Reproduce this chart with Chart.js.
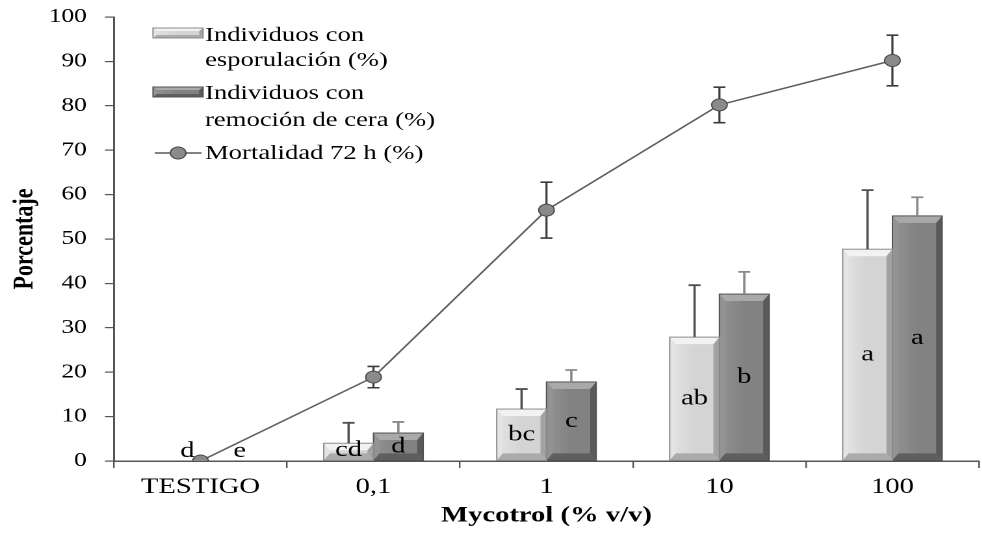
<!DOCTYPE html>
<html>
<head>
<meta charset="utf-8">
<script src="https://cdn.jsdelivr.net/npm/chart.js@4.4.1/dist/chart.umd.min.js"></script>
<style>
  html, body { margin: 0; padding: 0; background: #fff; overflow: hidden; }
  /* the figure is drawn narrow and stretched sideways, like the exported original */
  #wrap { width: 760px; height: 538px; transform: scaleX(1.3); transform-origin: 0 0; }
</style>
</head>
<body>
<div id="wrap"><canvas id="chart" width="760" height="538"></canvas></div>
<script>
const categories = ['TESTIGO', '0,1', '1', '10', '100'];

const sporulation = [0, 4.0, 11.7, 27.9, 47.7];
const sporulationErr = [0, 4.6, 4.5, 11.7, 13.3];
const sporulationLetters = ['d', 'cd', 'bc', 'ab', 'a'];

const waxRemoval = [0, 6.3, 17.8, 37.6, 55.2];
const waxRemovalErr = [0, 2.5, 2.7, 5.0, 4.2];
const waxRemovalLetters = ['e', 'd', 'c', 'b', 'a'];

const mortality = [0, 18.9, 56.5, 80.2, 90.2];
const mortalityErr = [0, 2.4, 6.3, 4.0, 5.7];

const yTicks = [0, 10, 20, 30, 40, 50, 60, 70, 80, 90, 100];

const SERIF = "'Liberation Serif', 'DejaVu Serif', serif";

const shades = {
  light: { face: '#d4d4d4', top: '#f2f2f2', left: '#e4e4e4', right: '#a2a2a2', bottom: '#ababab', edge: '#8c8c8c' },
  dark:  { face: '#828282', top: '#a9a9a9', left: '#939393', right: '#5a5a5a', bottom: '#5f5f5f', edge: '#525252' }
};

function poly(ctx, pts, color) {
  ctx.beginPath();
  ctx.moveTo(pts[0][0], pts[0][1]);
  for (let i = 1; i < pts.length; i++) ctx.lineTo(pts[i][0], pts[i][1]);
  ctx.closePath();
  ctx.fillStyle = color;
  ctx.fill();
}

// raised "bevel" look of the Excel bars
function drawBevel(ctx, x0, x1, y0, y1, s, bh, bv) {
  if (y1 - y0 < 0.5) return;
  bh = Math.min(bh, (x1 - x0) / 2);
  bv = Math.min(bv, (y1 - y0) / 2);
  ctx.save();
  const g = ctx.createLinearGradient(x0, 0, x1, 0);
  g.addColorStop(0, s.left);
  g.addColorStop(0.5, s.face);
  g.addColorStop(1, s.face);
  poly(ctx, [[x0, y0], [x1, y0], [x1, y1], [x0, y1]], g);
  poly(ctx, [[x0, y0], [x1, y0], [x1 - bh, y0 + bv], [x0 + bh, y0 + bv]], s.top);
  poly(ctx, [[x0, y0], [x0 + bh, y0 + bv], [x0 + bh, y1 - bv], [x0, y1]], s.left);
  poly(ctx, [[x1, y0], [x1, y1], [x1 - bh, y1 - bv], [x1 - bh, y0 + bv]], s.right);
  poly(ctx, [[x0, y1], [x0 + bh, y1 - bv], [x1 - bh, y1 - bv], [x1, y1]], s.bottom);
  ctx.strokeStyle = s.edge;
  ctx.lineWidth = 1;
  ctx.strokeRect(x0, y0, x1 - x0, y1 - y0);
  ctx.restore();
}

function drawCap(ctx, x, y1, y2, half) {
  ctx.beginPath();
  ctx.moveTo(x, y1);
  ctx.lineTo(x, y2);
  ctx.moveTo(x - half, y2);
  ctx.lineTo(x + half, y2);
  ctx.stroke();
}

const barLook = {
  id: 'barLook',
  beforeDatasetDraw(chart, args) {
    const ds = chart.data.datasets[args.index];
    if (ds.type !== 'line') return;
    // error bars behind the markers
    const { ctx } = chart;
    const y = chart.scales.y;
    ctx.save();
    ctx.strokeStyle = '#3c3c3c';
    ctx.lineWidth = 1.6;
    args.meta.data.forEach((pt, i) => {
      const e = ds.errors[i];
      if (!e) return;
      const yt = y.getPixelForValue(ds.data[i] + e);
      const yb = y.getPixelForValue(ds.data[i] - e);
      drawCap(ctx, pt.x, pt.y, yt, 4.6);
      drawCap(ctx, pt.x, pt.y, yb, 4.6);
    });
    ctx.restore();
  },
  afterDatasetDraw(chart, args) {
    const ds = chart.data.datasets[args.index];
    if (ds.type === 'line') return;
    const { ctx } = chart;
    const y = chart.scales.y;
    args.meta.data.forEach((bar, i) => {
      const p = bar.getProps(['x', 'y', 'base', 'width'], true);
      drawBevel(ctx, p.x - p.width / 2, p.x + p.width / 2, p.y, p.base, shades[ds.look], 4.6, 7);
      const e = ds.errors[i];
      if (e) {
        ctx.save();
        ctx.strokeStyle = ds.look === 'light' ? '#505050' : '#8a8a8a';
        ctx.lineWidth = 1.8;
        drawCap(ctx, p.x, p.y, y.getPixelForValue(ds.data[i] + e), 4.6);
        ctx.restore();
      }
    });
  },
  afterDatasetsDraw(chart) {
    const { ctx } = chart;
    ctx.save();
    ctx.fillStyle = '#000';
    ctx.font = '22px ' + SERIF;
    ctx.textAlign = 'center';
    ctx.textBaseline = 'middle';
    chart.data.datasets.forEach((ds, di) => {
      if (!ds.letters) return;
      chart.getDatasetMeta(di).data.forEach((bar, i) => {
        const p = bar.getProps(['x', 'y', 'base'], true);
        const flat = p.base - p.y < 1;
        const mid = Math.min((p.y + p.base) / 2, p.base - 10);
        // letters of empty bars sit a little inward, clear of the marker
        const dx = flat ? (ds.look === 'light' ? 9 : 11) : 0;
        ctx.fillText(ds.letters[i], p.x + dx, mid);
      });
    });
    ctx.restore();
  }
};

const legendBox = {
  id: 'legendBox',
  afterDraw(chart) {
    const { ctx } = chart;
    const sx = 117.7, sw = 38.5, tx = 157.7;
    ctx.save();
    drawBevel(ctx, sx, sx + sw, 28, 38, shades.light, 3, 3);
    drawBevel(ctx, sx, sx + sw, 87, 97, shades.dark, 3, 3);
    // line + marker sample
    ctx.strokeStyle = '#5a5a5a';
    ctx.lineWidth = 1.5;
    ctx.beginPath();
    ctx.moveTo(119, 153);
    ctx.lineTo(155, 153);
    ctx.stroke();
    ctx.beginPath();
    ctx.arc(137, 153, 6, 0, Math.PI * 2);
    ctx.fillStyle = '#8a8a8a';
    ctx.fill();
    ctx.strokeStyle = '#4a4a4a';
    ctx.lineWidth = 1;
    ctx.stroke();

    ctx.fillStyle = '#000';
    ctx.font = '20.5px ' + SERIF;
    ctx.textBaseline = 'alphabetic';
    ctx.textAlign = 'left';
    ctx.fillText('Individuos con', tx, 41);
    ctx.fillText('esporulación (%)', tx, 66);
    ctx.fillText('Individuos con', tx, 99);
    ctx.fillText('remoción de cera (%)', tx, 126);
    ctx.fillText('Mortalidad 72 h (%)', tx, 159);
    ctx.restore();
  }
};

new Chart(document.getElementById('chart'), {
  data: {
    labels: categories,
    datasets: [
      {
        type: 'line',
        label: 'Mortalidad 72 h (%)',
        data: mortality,
        errors: mortalityErr,
        order: 0,
        borderColor: '#5f5f5f',
        borderWidth: 1.5,
        pointRadius: 6,
        pointBackgroundColor: '#8a8a8a',
        pointBorderColor: '#4a4a4a',
        pointBorderWidth: 1,
        tension: 0
      },
      {
        type: 'bar',
        label: 'Individuos con esporulación (%)',
        data: sporulation,
        errors: sporulationErr,
        letters: sporulationLetters,
        look: 'light',
        order: 1,
        backgroundColor: shades.light.face,
        borderWidth: 0,
        categoryPercentage: 0.575,
        barPercentage: 1
      },
      {
        type: 'bar',
        label: 'Individuos con remoción de cera (%)',
        data: waxRemoval,
        errors: waxRemovalErr,
        letters: waxRemovalLetters,
        look: 'dark',
        order: 1,
        backgroundColor: shades.dark.face,
        borderWidth: 0,
        categoryPercentage: 0.575,
        barPercentage: 1
      }
    ]
  },
  options: {
    responsive: false,
    animation: false,
    devicePixelRatio: 2,
    layout: { padding: { top: 17, right: 0, left: 0, bottom: 0 } },
    plugins: { legend: { display: false }, tooltip: { enabled: false } },
    scales: {
      x: {
        grid: { offset: true, drawOnChartArea: false, tickLength: 7, color: '#555', lineWidth: 1.2 },
        border: { color: '#555', width: 1.5 },
        ticks: { color: '#000', font: { family: SERIF, size: 22 }, padding: 6, maxRotation: 0 },
        title: {
          display: true, text: 'Mycotrol (% v/v)', color: '#000',
          font: { family: SERIF, size: 22, weight: 'bold' }, padding: { top: 0, bottom: 9 }
        },
        afterFit: (s) => { s.height = 77; }
      },
      y: {
        min: 0,
        max: 100,
        afterBuildTicks: (s) => { s.ticks = yTicks.map(v => ({ value: v })); },
        grid: { drawOnChartArea: false, tickLength: 7, color: '#555', lineWidth: 1.2 },
        border: { color: '#555', width: 1.5 },
        ticks: { color: '#000', font: { family: SERIF, size: 19.5 }, padding: 14 },
        title: {
          display: true, text: 'Porcentaje', color: '#000',
          font: { family: SERIF, size: 22, weight: 'bold' }, padding: { top: 6, bottom: 0 }
        },
        afterFit: (s) => {
          s.width = 87.7;
          // label gap should not push the plot top down
          s.paddingTop = 12;
          s.paddingBottom = 12;
        }
      }
    }
  },
  plugins: [barLook, legendBox]
});
</script>
</body>
</html>
